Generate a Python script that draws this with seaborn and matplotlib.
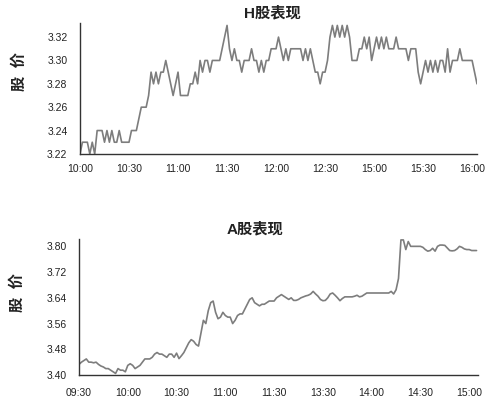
import numpy as np
import pandas as pd
import matplotlib
matplotlib.use("Agg")
import matplotlib.pyplot as plt
import seaborn as sns

# H股 (10:00-16:00), 20 readings per 30-minute slot
h_labels = ["10:00", "10:30", "11:00", "11:30", "12:00", "12:30", "15:00", "15:30", "16:00"]
h_price = [
    3.22, 3.23, 3.23, 3.23, 3.22, 3.23, 3.22, 3.24, 3.24, 3.24, 3.23, 3.24, 3.23, 3.24, 3.23, 3.23, 3.24, 3.23, 3.23, 3.23,
    3.23, 3.24, 3.24, 3.24, 3.25, 3.26, 3.26, 3.26, 3.27, 3.29, 3.28, 3.29, 3.28, 3.29, 3.29, 3.30, 3.29, 3.28, 3.27, 3.28,
    3.29, 3.27, 3.27, 3.27, 3.27, 3.28, 3.28, 3.29, 3.28, 3.30, 3.29, 3.30, 3.30, 3.29, 3.30, 3.30, 3.30, 3.30, 3.31, 3.32,
    3.33, 3.31, 3.30, 3.31, 3.30, 3.30, 3.29, 3.30, 3.30, 3.30, 3.31, 3.30, 3.30, 3.29, 3.30, 3.29, 3.30, 3.30, 3.31, 3.31,
    3.31, 3.32, 3.31, 3.30, 3.31, 3.30, 3.31, 3.31, 3.31, 3.31, 3.31, 3.30, 3.31, 3.30, 3.31, 3.30, 3.29, 3.29, 3.28, 3.29,
    3.29, 3.30, 3.32, 3.33, 3.32, 3.33, 3.32, 3.33, 3.32, 3.33, 3.32, 3.30, 3.30, 3.30, 3.31, 3.31, 3.32, 3.31, 3.32, 3.30,
    3.31, 3.32, 3.31, 3.32, 3.31, 3.32, 3.31, 3.31, 3.31, 3.32, 3.31, 3.31, 3.31, 3.31, 3.30, 3.31, 3.31, 3.31, 3.29, 3.28,
    3.29, 3.30, 3.29, 3.30, 3.29, 3.30, 3.29, 3.30, 3.30, 3.29, 3.31, 3.29, 3.30, 3.30, 3.30, 3.31, 3.30, 3.30, 3.30, 3.30,
    3.30, 3.29, 3.28,
]
h_yticks = [3.22, 3.24, 3.26, 3.28, 3.30, 3.32]

# A股 (09:30-15:00)
a_labels = ["09:30", "10:00", "10:30", "11:00", "11:30", "13:30", "14:00", "14:30", "15:00"]
a_price = [
    3.433, 3.44, 3.445, 3.45, 3.44, 3.44, 3.438, 3.44, 3.433, 3.428, 3.425, 3.42, 3.42, 3.415, 3.41, 3.405, 3.42, 3.415, 3.415, 3.41,
    3.43, 3.435, 3.43, 3.42, 3.425, 3.43, 3.44, 3.45, 3.45, 3.45, 3.455, 3.465, 3.47, 3.465, 3.465, 3.46, 3.455, 3.465, 3.465, 3.455,
    3.468, 3.451, 3.46, 3.47, 3.485, 3.50, 3.51, 3.505, 3.495, 3.49, 3.53, 3.57, 3.56, 3.60, 3.625, 3.63, 3.595, 3.575, 3.58, 3.595,
    3.585, 3.58, 3.58, 3.56, 3.57, 3.585, 3.59, 3.59, 3.605, 3.62, 3.635, 3.64, 3.625, 3.62, 3.615, 3.62, 3.62, 3.625, 3.63, 3.63,
    3.63, 3.64, 3.645, 3.65, 3.645, 3.64, 3.635, 3.64, 3.632, 3.632, 3.635, 3.64, 3.643, 3.646, 3.648, 3.652, 3.66, 3.652, 3.645, 3.635,
    3.631, 3.632, 3.64, 3.652, 3.655, 3.648, 3.64, 3.631, 3.638, 3.643, 3.643, 3.643, 3.643, 3.645, 3.648, 3.643, 3.645, 3.65, 3.655, 3.655,
    3.655, 3.655, 3.655, 3.655, 3.655, 3.655, 3.655, 3.655, 3.66, 3.652, 3.665, 3.70, 3.82, 3.82, 3.79, 3.815, 3.80, 3.80, 3.80, 3.80,
    3.80, 3.797, 3.79, 3.785, 3.787, 3.794, 3.785, 3.80, 3.804, 3.804, 3.803, 3.795, 3.787, 3.786, 3.787, 3.792, 3.80, 3.797, 3.792, 3.79,
    3.79, 3.787, 3.787, 3.787,
]
a_yticks = [3.40, 3.48, 3.56, 3.64, 3.72, 3.80]

sns.set_style("white")
plt.rcParams['font.family'] = ['Liberation Sans', 'Noto Sans CJK SC', 'DejaVu Sans']

line_color = "#7d7d7d"
text_color = "#222222"

fig = plt.figure(figsize=(5.0, 4.05), dpi=100)
ax_h = fig.add_axes([0.160, 0.620, 0.794, 0.323])
ax_a = fig.add_axes([0.158, 0.074, 0.798, 0.336])


def draw_panel(ax, prices, labels, yticks, title, xmax, ylim, label_y, title_x, xpad):
    df = pd.DataFrame({"pos": np.arange(len(prices)) / 20.0, "price": prices})
    sns.lineplot(data=df, x="pos", y="price", ax=ax, color=line_color, linewidth=1.2)
    ax.set_xlim(0, xmax)
    ax.set_ylim(*ylim)
    ax.set_xticks(range(len(labels)))
    ax.set_xticklabels(labels)
    ax.set_yticks(yticks)
    ax.set_yticklabels([f"{v:.2f}" for v in yticks])
    ax.tick_params(axis="both", length=0, labelsize=7.5, colors=text_color)
    ax.tick_params(axis="x", pad=xpad)
    ax.tick_params(axis="y", pad=9)
    ax.set_xlabel("")
    ax.set_ylabel("股  价", fontsize=11, fontweight="bold", color=text_color)
    ax.yaxis.set_label_coords(-0.135, label_y)
    t = ax.set_title(title, fontsize=11, fontweight="bold", color=text_color, pad=4)
    t.set_x(title_x)
    for side in ["top", "right"]:
        ax.spines[side].set_visible(False)
    for side in ["left", "bottom"]:
        ax.spines[side].set_color("#333333")
        ax.spines[side].set_linewidth(1.0)
    ax.grid(False)


draw_panel(ax_h, h_price, h_labels, h_yticks, "H股表现", 8.10, (3.22, 3.332), 0.63, 0.484, 7)
draw_panel(ax_a, a_price, a_labels, a_yticks, "A股表现", 8.18, (3.40, 3.823), 0.61, 0.44, 9)

fig.savefig("out.png", dpi=100)
plt.close(fig)
